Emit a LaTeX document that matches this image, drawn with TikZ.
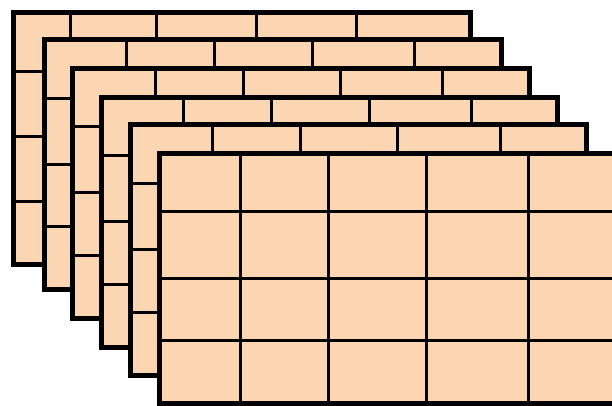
\documentclass[tikz,border=0pt]{standalone}
\definecolor{peach}{RGB}{252,214,179}
\tikzset{
  panelfill/.style={fill=peach},
  outerline/.style={draw=black, line width=5pt},
  innerline/.style={draw=black, line width=3pt}
}
\newcommand\drawpanel[6]{%
  \fill[panelfill] (#1,#2) rectangle ++(#3,#4);
  \foreach \vv in {#5} {\draw[innerline] (#1+\vv,#2) -- ++(0,#4);}
  \foreach \hh in {#6} {\draw[innerline] (#1,#2+\hh) -- ++(#3,0);}
  \draw[outerline] (#1,#2) rectangle ++(#3,#4);
}
\begin{document}
\begin{tikzpicture}[x=1pt,y=-1pt]
\useasboundingbox (0,0) rectangle (612,405);
\clip (0,0) rectangle (612,405);
\drawpanel{13.5}{12.5}{456.5}{252}{56.5,143,242.5,343}{59.2,124.2,189.2}
\drawpanel{44}{39.5}{457}{249.5}{82.7,170.3,268.3,370}{58.8,124.5,187.2}
\drawpanel{72.5}{68.5}{457}{249.7}{83.2,170.8,268.2,370.2}{58.2,124.2,186.5}
\drawpanel{101.5}{97.5}{456}{250}{81.8,170.2,267.8,369.5}{57.5,124.2,186.5}
\drawpanel{130}{124.5}{456}{251.3}{82.3,170,267.7,370}{58.8,124.8,187.8}
\drawpanel{159}{153.5}{457}{250}{81.7,169.3,267.7,369.3}{58.2,124.8,187.2}
\end{tikzpicture}
\end{document}
